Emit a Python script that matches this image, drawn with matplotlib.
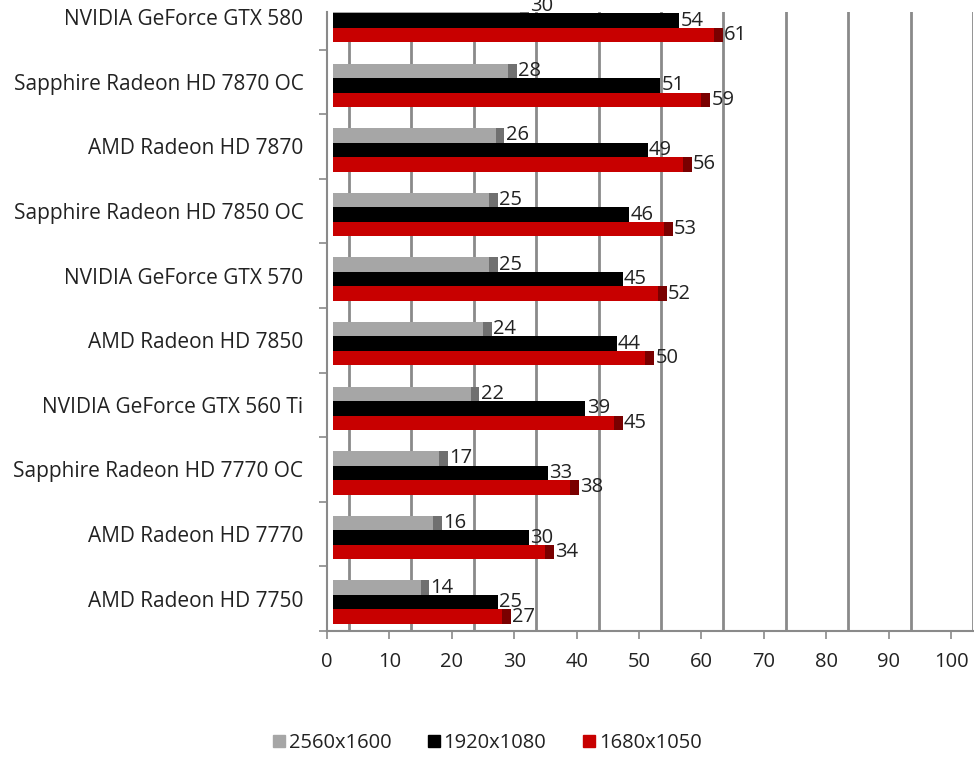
import numpy as np
import matplotlib
matplotlib.use('Agg')
import matplotlib.pyplot as plt
from matplotlib.lines import Line2D

plt.rcParams['font.family'] = ['Open Sans', 'DejaVu Sans']

# data, bottom to top
cards = ['AMD Radeon HD 7750', 'AMD Radeon HD 7770', 'Sapphire Radeon HD 7770 OC',
         'NVIDIA GeForce GTX 560 Ti', 'AMD Radeon HD 7850', 'NVIDIA GeForce GTX 570',
         'Sapphire Radeon HD 7850 OC', 'AMD Radeon HD 7870', 'Sapphire Radeon HD 7870 OC',
         'NVIDIA GeForce GTX 580']
res_2560 = [14, 16, 17, 22, 24, 25, 25, 26, 28, 30]
res_1920 = [25, 30, 33, 39, 44, 45, 46, 49, 51, 54]
res_1680 = [27, 34, 38, 45, 50, 52, 53, 56, 59, 61]
series_names = ['2560x1600', '1920x1080', '1680x1050']

colors = ['#a6a6a6', '#000000', '#c80000']
caps = ['#707070', '#000000', '#7a0000']

fig = plt.figure(figsize=(9.74, 7.58), dpi=100)
ax = fig.add_axes([327 / 974, 127 / 758, 646 / 974, 619 / 758])

y = np.arange(len(cards))
h = 0.224
offsets = [0.171, -0.053, -0.277]
start = 1.0
cap_w = 1.4

# fake 3d back wall grid, shifted right
for g in np.arange(3.5, 104, 10):
    ax.axvline(g, color='#8a8a8a', lw=2, zorder=0)

for vals, off, c, cc in zip([res_2560, res_1920, res_1680], offsets, colors, caps):
    vals = np.array(vals)
    ax.barh(y + off, vals, height=h, left=start, color=c, zorder=2)
    ax.barh(y + off, cap_w, height=h, left=start + vals, color=cc, zorder=2)
    for yi, v in zip(y, vals):
        ax.text(start + v + cap_w + 0.2, yi + off, str(v), va='center', ha='left',
                fontsize=14.5, color='#222222', zorder=3)

ax.set_xlim(0, 103.5)
ax.set_ylim(-0.5, -0.5 + 619 / 64.6)
ax.set_xticks(range(0, 101, 10))
ax.set_yticks(y)
ax.set_yticklabels(cards)
ax.set_yticks(np.arange(-0.5, 9, 1), minor=True)

ax.tick_params(axis='y', which='major', length=0, pad=17, labelsize=15, labelcolor='#222222')
ax.tick_params(axis='y', which='minor', length=6, width=1.2, color='#8a8a8a', direction='out')
ax.tick_params(axis='x', length=6, width=1.2, color='#8a8a8a', direction='out', pad=9,
               labelsize=14.5, labelcolor='#222222')

for s in ['top', 'right']:
    ax.spines[s].set_visible(False)
for s in ['left', 'bottom']:
    ax.spines[s].set_color('#8a8a8a')
    ax.spines[s].set_linewidth(1.5)

handles = [Line2D([], [], marker='s', ls='', color=c, markersize=8) for c in colors]
fig.legend(handles, series_names, loc='center', bbox_to_anchor=(0.499, 0.02), ncol=3,
           frameon=False, fontsize=14.5, handletextpad=0.1, columnspacing=1.7,
           handlelength=0.8, labelcolor='#222222')

fig.savefig('out.png', dpi=100)
